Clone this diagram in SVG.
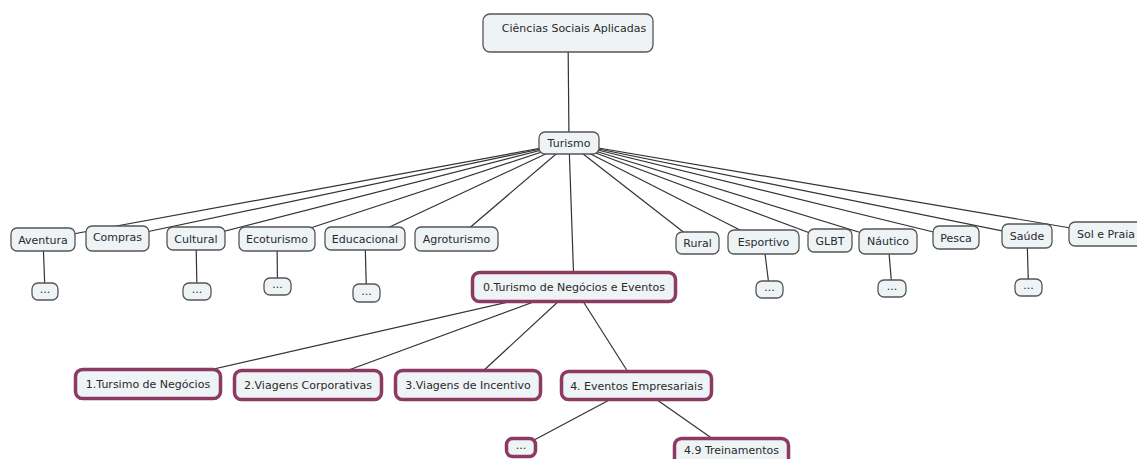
<svg xmlns="http://www.w3.org/2000/svg" width="1137" height="459" viewBox="0 0 1137 459">
<style>
.n{fill:#eef3f6;stroke:#555;stroke-width:1.3}
.p{fill:#eef3f6;stroke:#8c3a62;stroke-width:3.5}
.t{font-family:"DejaVu Sans",Verdana,sans-serif;font-size:11px;fill:#2a2a2a;text-anchor:middle}
.c line{stroke:#333;stroke-width:1.2}
</style>
<rect width="1137" height="459" fill="#fff"/>
<g id="connectors" class="c">
<line x1="568" y1="33" x2="569" y2="143"/>
<line x1="569" y1="143" x2="43" y2="239.5"/>
<line x1="569" y1="143" x2="117.5" y2="238"/>
<line x1="569" y1="143" x2="196" y2="238.5"/>
<line x1="569" y1="143" x2="277" y2="239"/>
<line x1="569" y1="143" x2="365" y2="238.5"/>
<line x1="569" y1="143" x2="456.5" y2="239"/>
<line x1="569" y1="143" x2="574" y2="287"/>
<line x1="569" y1="143" x2="697.5" y2="243"/>
<line x1="569" y1="143" x2="763.5" y2="242"/>
<line x1="569" y1="143" x2="830" y2="240.5"/>
<line x1="569" y1="143" x2="888" y2="241"/>
<line x1="569" y1="143" x2="956" y2="237.5"/>
<line x1="569" y1="143" x2="1027" y2="236"/>
<line x1="569" y1="143" x2="1106" y2="234"/>
<line x1="43" y1="239.5" x2="45" y2="291.5"/>
<line x1="196" y1="238.5" x2="197" y2="291.5"/>
<line x1="277" y1="239" x2="277.5" y2="286.5"/>
<line x1="365" y1="238.5" x2="366.5" y2="293"/>
<line x1="763.5" y1="242" x2="769.5" y2="289.5"/>
<line x1="888" y1="241" x2="892" y2="288.5"/>
<line x1="1027" y1="236" x2="1028.5" y2="287.5"/>
<line x1="574" y1="287" x2="148" y2="384"/>
<line x1="574" y1="287" x2="308" y2="385"/>
<line x1="574" y1="287" x2="468" y2="385"/>
<line x1="574" y1="287" x2="636.5" y2="385.5"/>
<line x1="636.5" y1="385.5" x2="521" y2="447"/>
<line x1="636.5" y1="385.5" x2="731.5" y2="452"/>
</g>
<g id="n-csa"><rect class="n" x="483" y="14" width="170" height="38" rx="7"/><text class="t" x="574" y="32">Ciências Sociais Aplicadas</text></g>
<g id="n-turismo"><rect class="n" x="539" y="132" width="60" height="22" rx="6"/><text class="t" x="569" y="147">Turismo</text></g>
<g id="n-aventura"><rect class="n" x="11" y="228" width="64" height="23" rx="6"/><text class="t" x="43" y="243.5">Aventura</text></g>
<g id="n-compras"><rect class="n" x="86" y="226" width="63" height="25" rx="6"/><text class="t" x="117.5" y="241">Compras</text></g>
<g id="n-cultural"><rect class="n" x="167" y="227" width="58" height="23" rx="6"/><text class="t" x="196" y="242.5">Cultural</text></g>
<g id="n-ecoturismo"><rect class="n" x="239" y="227" width="76" height="24" rx="6"/><text class="t" x="277" y="243">Ecoturismo</text></g>
<g id="n-educacional"><rect class="n" x="325" y="227" width="80" height="23" rx="6"/><text class="t" x="365" y="242.5">Educacional</text></g>
<g id="n-agroturismo"><rect class="n" x="415" y="227" width="83" height="24" rx="6"/><text class="t" x="456.5" y="243">Agroturismo</text></g>
<g id="n-rural"><rect class="n" x="676" y="232" width="43" height="22" rx="6"/><text class="t" x="697.5" y="247">Rural</text></g>
<g id="n-esportivo"><rect class="n" x="728" y="230" width="71" height="24" rx="6"/><text class="t" x="763.5" y="246">Esportivo</text></g>
<g id="n-glbt"><rect class="n" x="808" y="229" width="44" height="23" rx="6"/><text class="t" x="830" y="244.5">GLBT</text></g>
<g id="n-nautico"><rect class="n" x="859" y="229" width="58" height="25" rx="6"/><text class="t" x="888" y="245">Náutico</text></g>
<g id="n-pesca"><rect class="n" x="933" y="226" width="46" height="23" rx="6"/><text class="t" x="956" y="241.5">Pesca</text></g>
<g id="n-saude"><rect class="n" x="1002" y="224" width="50" height="24" rx="6"/><text class="t" x="1027" y="240">Saúde</text></g>
<g id="n-solpraia"><rect class="n" x="1069" y="222" width="76" height="24" rx="6"/><text class="t" x="1106" y="238">Sol e Praia</text></g>
<g id="n-e1"><rect class="n" x="32" y="283" width="26" height="17" rx="6"/><text class="t" x="45" y="293">...</text></g>
<g id="n-e2"><rect class="n" x="183" y="283" width="28" height="17" rx="6"/><text class="t" x="197" y="293">...</text></g>
<g id="n-e3"><rect class="n" x="264" y="278" width="27" height="17" rx="6"/><text class="t" x="277.5" y="288">...</text></g>
<g id="n-e4"><rect class="n" x="353" y="284" width="27" height="18" rx="6"/><text class="t" x="366.5" y="294.5">...</text></g>
<g id="n-e5"><rect class="n" x="756" y="281" width="27" height="17" rx="6"/><text class="t" x="769.5" y="291">...</text></g>
<g id="n-e6"><rect class="n" x="878" y="280" width="28" height="17" rx="6"/><text class="t" x="892" y="290">...</text></g>
<g id="n-e7"><rect class="n" x="1015" y="279" width="27" height="17" rx="6"/><text class="t" x="1028.5" y="289">...</text></g>
<g id="n-0"><rect class="p" x="472.5" y="272.5" width="203" height="29" rx="7"/><text class="t" x="574" y="291">0.Turismo de Negócios e Eventos</text></g>
<g id="n-1"><rect class="p" x="75.5" y="369.5" width="145" height="29" rx="7"/><text class="t" x="148" y="388">1.Tursimo de Negócios</text></g>
<g id="n-2"><rect class="p" x="234.5" y="370.5" width="147" height="29" rx="7"/><text class="t" x="308" y="389">2.Viagens Corporativas</text></g>
<g id="n-3"><rect class="p" x="395.5" y="370.5" width="145" height="29" rx="7"/><text class="t" x="468" y="389">3.Viagens de Incentivo</text></g>
<g id="n-4"><rect class="p" x="561.5" y="371.5" width="150" height="28" rx="7"/><text class="t" x="636.5" y="389.5">4. Eventos Empresariais</text></g>
<g id="n-4e"><rect class="p" x="506.5" y="438.5" width="29" height="18" rx="6"/><text class="t" x="521" y="449">...</text></g>
<g id="n-49"><rect class="p" x="674.5" y="438.5" width="114" height="27" rx="7"/><text class="t" x="731.5" y="454">4.9 Treinamentos</text></g>
</svg>
